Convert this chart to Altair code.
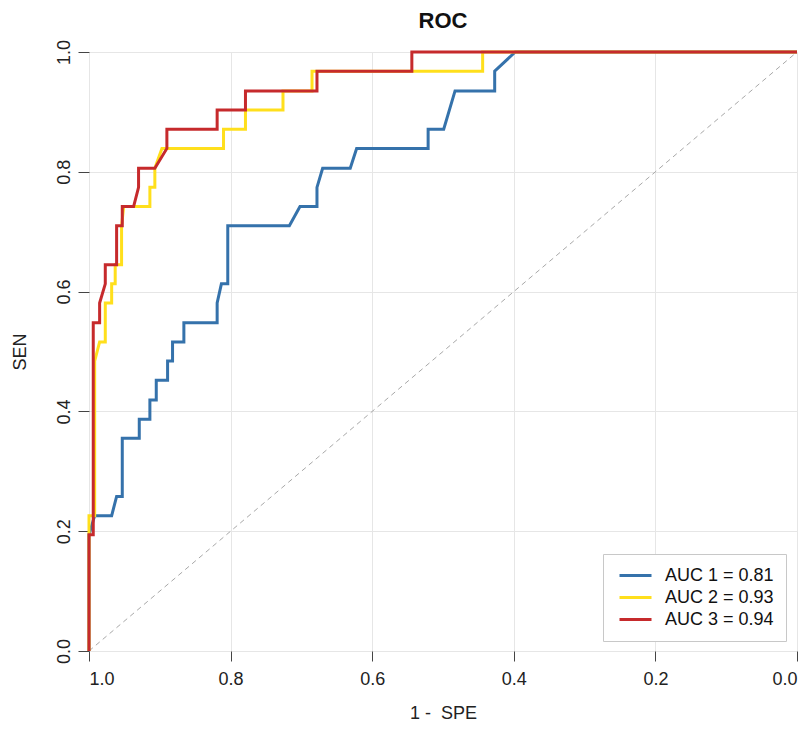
import altair as alt
import pandas as pd

# ROC curves (specificity, sensitivity)
series_names = ["AUC 1 = 0.81", "AUC 2 = 0.93", "AUC 3 = 0.94"]
series_colors = ["#3572ab", "#ffdf1c", "#c62a2c"]

spe_1 = [1.0, 1.0, 0.992, 0.968, 0.961, 0.953, 0.953, 0.929, 0.929, 0.914, 0.914, 0.905, 0.905,
         0.889, 0.889, 0.882, 0.882, 0.866, 0.866, 0.819, 0.819, 0.813, 0.804, 0.804, 0.717,
         0.702, 0.678, 0.678, 0.670, 0.631, 0.622, 0.521, 0.521, 0.499, 0.483, 0.427, 0.427,
         0.398, 0.0]
sen_1 = [0.0, 0.194, 0.226, 0.226, 0.258, 0.258, 0.355, 0.355, 0.387, 0.387, 0.419, 0.419, 0.452,
         0.452, 0.484, 0.484, 0.516, 0.516, 0.548, 0.548, 0.581, 0.613, 0.613, 0.710, 0.710,
         0.742, 0.742, 0.774, 0.806, 0.806, 0.839, 0.839, 0.871, 0.871, 0.935, 0.935, 0.968,
         1.0, 1.0]

spe_2 = [1.0, 1.0, 0.992, 0.992, 0.985, 0.977, 0.977, 0.968, 0.968, 0.963, 0.963, 0.954, 0.954,
         0.951, 0.914, 0.914, 0.907, 0.907, 0.897, 0.810, 0.810, 0.779, 0.779, 0.726, 0.726,
         0.685, 0.685, 0.444, 0.444, 0.0]
sen_2 = [0.0, 0.226, 0.226, 0.484, 0.516, 0.516, 0.581, 0.581, 0.613, 0.613, 0.645, 0.645, 0.710,
         0.742, 0.742, 0.774, 0.774, 0.806, 0.839, 0.839, 0.871, 0.871, 0.903, 0.903, 0.935,
         0.935, 0.968, 0.968, 1.0, 1.0]

spe_3 = [1.0, 1.0, 0.994, 0.994, 0.985, 0.985, 0.977, 0.977, 0.961, 0.961, 0.953, 0.953, 0.937,
         0.930, 0.930, 0.907, 0.890, 0.890, 0.819, 0.819, 0.779, 0.779, 0.678, 0.678, 0.544,
         0.544, 0.0]
sen_3 = [0.0, 0.194, 0.194, 0.548, 0.548, 0.581, 0.613, 0.645, 0.645, 0.710, 0.710, 0.742, 0.742,
         0.774, 0.806, 0.806, 0.839, 0.871, 0.871, 0.903, 0.903, 0.935, 0.935, 0.968, 0.968,
         1.0, 1.0]

tick_values = [0.0, 0.2, 0.4, 0.6, 0.8, 1.0]

rows = []
for name, spe, sen in zip(series_names, [spe_1, spe_2, spe_3], [sen_1, sen_2, sen_3]):
    for i, (a, b) in enumerate(zip(spe, sen)):
        rows.append({"series": name, "spe": a, "sen": b, "idx": i})
df = pd.DataFrame(rows)

diag = pd.DataFrame({"spe": [1.0, 0.0], "sen": [0.0, 1.0]})

FONT = "Liberation Sans"

x_scale = alt.Scale(domain=[0, 1], reverse=True, nice=False)
y_scale = alt.Scale(domain=[0, 1], nice=False)

x_axis = alt.Axis(values=tick_values, format=".1f", title="1 -\u00a0 SPE", grid=True,
                  tickSize=10, labelPadding=9, titlePadding=16)
y_axis = alt.Axis(values=tick_values, format=".1f", title="SEN", grid=True,
                  tickSize=11, labelAngle=270, labelAlign="center", labelBaseline="bottom",
                  labelPadding=5, titlePadding=26)

diag_line = alt.Chart(diag).mark_line(color="#a8a8a8", strokeWidth=1, strokeDash=[5, 4]).encode(
    x=alt.X("spe:Q", scale=x_scale, axis=x_axis),
    y=alt.Y("sen:Q", scale=y_scale, axis=y_axis),
)

curves = alt.Chart(df).mark_line(strokeWidth=3, interpolate="linear").encode(
    x=alt.X("spe:Q", scale=x_scale, axis=x_axis),
    y=alt.Y("sen:Q", scale=y_scale, axis=y_axis),
    color=alt.Color("series:N",
                    scale=alt.Scale(domain=series_names, range=series_colors),
                    legend=alt.Legend(title=None, orient="none", legendX=514, legendY=502,
                                      symbolType="M-2,0L2,0", symbolSize=256,
                                      symbolStrokeWidth=3, symbolOffset=11,
                                      labelFontSize=18, labelFont=FONT,
                                      labelColor="#111", labelOffset=20, rowPadding=3,
                                      padding=12, strokeColor="#c8c8c8", fillColor="white",
                                      cornerRadius=0)),
    order="idx:Q",
)

chart = alt.layer(diag_line, curves).properties(
    width=708,
    height=599,
    title=alt.TitleParams("ROC", font=FONT, fontSize=22, fontWeight="bold", color="#111",
                          anchor="middle", baseline="bottom", offset=6, dy=22),
    padding={"left": 81, "top": 44, "right": 2, "bottom": 70},
    autosize=alt.AutoSizeParams(type="none"),
).configure_view(stroke=None).configure_axis(
    domain=False,
    gridColor="#e6e6e6",
    gridWidth=1,
    tickColor="#444",
    tickWidth=1,
    labelFont=FONT,
    labelFontSize=18,
    labelColor="#222",
    titleFont=FONT,
    titleFontSize=18,
    titleFontWeight="normal",
    titleColor="#222",
)

chart.save("out.html", embed_options={"renderer": "svg", "actions": False})
